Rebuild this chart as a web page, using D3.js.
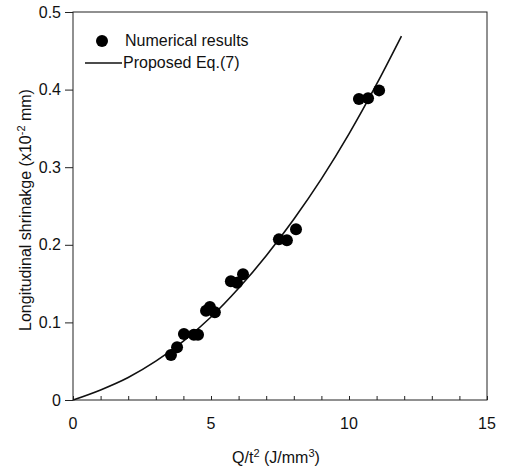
<!DOCTYPE html>
<html>
<head>
<meta charset="utf-8">
<script src="https://cdn.jsdelivr.net/npm/d3@7"></script>
<style>
    body{margin:0;background:#fff;}
    text{font-family:"Liberation Sans", Arial, sans-serif;fill:#111;}
</style>
</head>
<body>
<div id="chart"></div>
<script>
// numerical results (Q/t^2, shrinkage)
const numX = [3.55, 3.77, 4.02, 4.38, 4.53, 4.82, 4.96, 5.14, 5.72, 5.94, 6.16, 7.46, 7.75, 8.08, 10.36, 10.69, 11.09];
const numY = [0.058, 0.068, 0.085, 0.084, 0.084, 0.115, 0.120, 0.113, 0.153, 0.151, 0.162, 0.207, 0.206, 0.220, 0.388, 0.389, 0.399];
// proposed Eq.(7) curve
const eqX = [0, 1, 2, 3, 4, 5, 6, 7, 8, 9, 10, 11, 11.9];
const eqY = [0, 0.013, 0.029, 0.050, 0.076, 0.107, 0.144, 0.186, 0.233, 0.285, 0.343, 0.407, 0.469];
const xTicks = [0, 5, 10, 15];
const yTicks = [0, 0.1, 0.2, 0.3, 0.4, 0.5];

const margin = {top: 12, right: 22, bottom: 70, left: 73};
const width = 509 - margin.left - margin.right;
const height = 470 - margin.top - margin.bottom;

const svg = d3.select("#chart").append("svg")
    .attr("width", 509)
    .attr("height", 470);
const g = svg.append("g")
    .attr("transform", "translate(" + margin.left + "," + margin.top + ")");

const x = d3.scaleLinear().domain([0, 15]).range([0, width]);
const y = d3.scaleLinear().domain([0, 0.5]).range([height, 0]);

// frame
g.append("rect")
    .attr("x", 0).attr("y", 0)
    .attr("width", width).attr("height", height)
    .attr("fill", "none")
    .attr("stroke", "#222")
    .attr("stroke-width", 1);

// x axis: inward minor ticks every unit, labels at 0/5/10/15
const xAxis = g.append("g")
    .attr("transform", "translate(0," + height + ")")
    .call(d3.axisBottom(x).tickValues(d3.range(0, 16, 1)).tickSize(-4).tickFormat(""));
xAxis.select(".domain").remove();
xAxis.selectAll("line").attr("stroke", "#222");

g.append("g").selectAll("text")
    .data(xTicks)
    .join("text")
    .attr("x", d=>x(d))
    .attr("y", height + 29)
    .attr("text-anchor", "middle")
    .style("font-size", "16px")
    .text(d=>d);

// y axis: outward ticks
const yAxis = g.append("g")
    .call(d3.axisLeft(y).tickValues(yTicks).tickSize(8).tickPadding(4)
        .tickFormat(d=>d === 0 ? "0" : d3.format(".1f")(d)));
yAxis.select(".domain").remove();
yAxis.selectAll("line").attr("stroke", "#222");
yAxis.selectAll("text")
    .style("font-size", "16px")
    .style("font-family", "'Liberation Sans', Arial, sans-serif")
    .attr("fill", "#111");

// axis titles
const xTitle = svg.append("text")
    .attr("x", margin.left + x(7.5) - 4)
    .attr("y", 463)
    .attr("text-anchor", "middle")
    .style("font-size", "16px");
xTitle.append("tspan").text("Q/t");
xTitle.append("tspan").attr("dy", -6).style("font-size", "11px").text("2");
xTitle.append("tspan").attr("dy", 6).text(" (J/mm");
xTitle.append("tspan").attr("dy", -6).style("font-size", "11px").text("3");
xTitle.append("tspan").attr("dy", 6).text(")");

const yTitle = svg.append("text")
    .attr("transform", "translate(31," + (margin.top + height / 2 + 4) + ") rotate(-90)")
    .attr("text-anchor", "middle")
    .style("font-size", "16px");
yTitle.append("tspan").text("Longitudinal shrinakge (x10");
yTitle.append("tspan").attr("dy", -6).style("font-size", "11px").text("-2");
yTitle.append("tspan").attr("dy", 6).text(" mm)");

// proposed curve
const eqData = eqX.map((d,i)=>({x: d, y: eqY[i]}));
g.append("path")
    .datum(eqData)
    .attr("fill", "none")
    .attr("stroke", "#111")
    .attr("stroke-width", 1.6)
    .attr("d", d3.line().x(d=>x(d.x)).y(d=>y(d.y)).curve(d3.curveMonotoneX));

// numerical points
const numData = numX.map((d,i)=>({x: d, y: numY[i]}));
g.selectAll(".numPoint")
    .data(numData)
    .join("circle")
    .attr("class", "numPoint")
    .attr("cx", d=>x(d.x))
    .attr("cy", d=>y(d.y))
    .attr("r", 6)
    .attr("fill", "#000");

// legend
const legend = svg.append("g");
legend.append("circle")
    .attr("cx", 102).attr("cy", 41).attr("r", 6).attr("fill", "#000");
legend.append("text")
    .attr("x", 125).attr("y", 46)
    .style("font-size", "16px")
    .text("Numerical results");
legend.append("line")
    .attr("x1", 85).attr("x2", 122)
    .attr("y1", 63).attr("y2", 63)
    .attr("stroke", "#111").attr("stroke-width", 1.6);
legend.append("text")
    .attr("x", 123).attr("y", 68)
    .style("font-size", "16px")
    .text("Proposed Eq.(7)");
</script>
</body>
</html>
